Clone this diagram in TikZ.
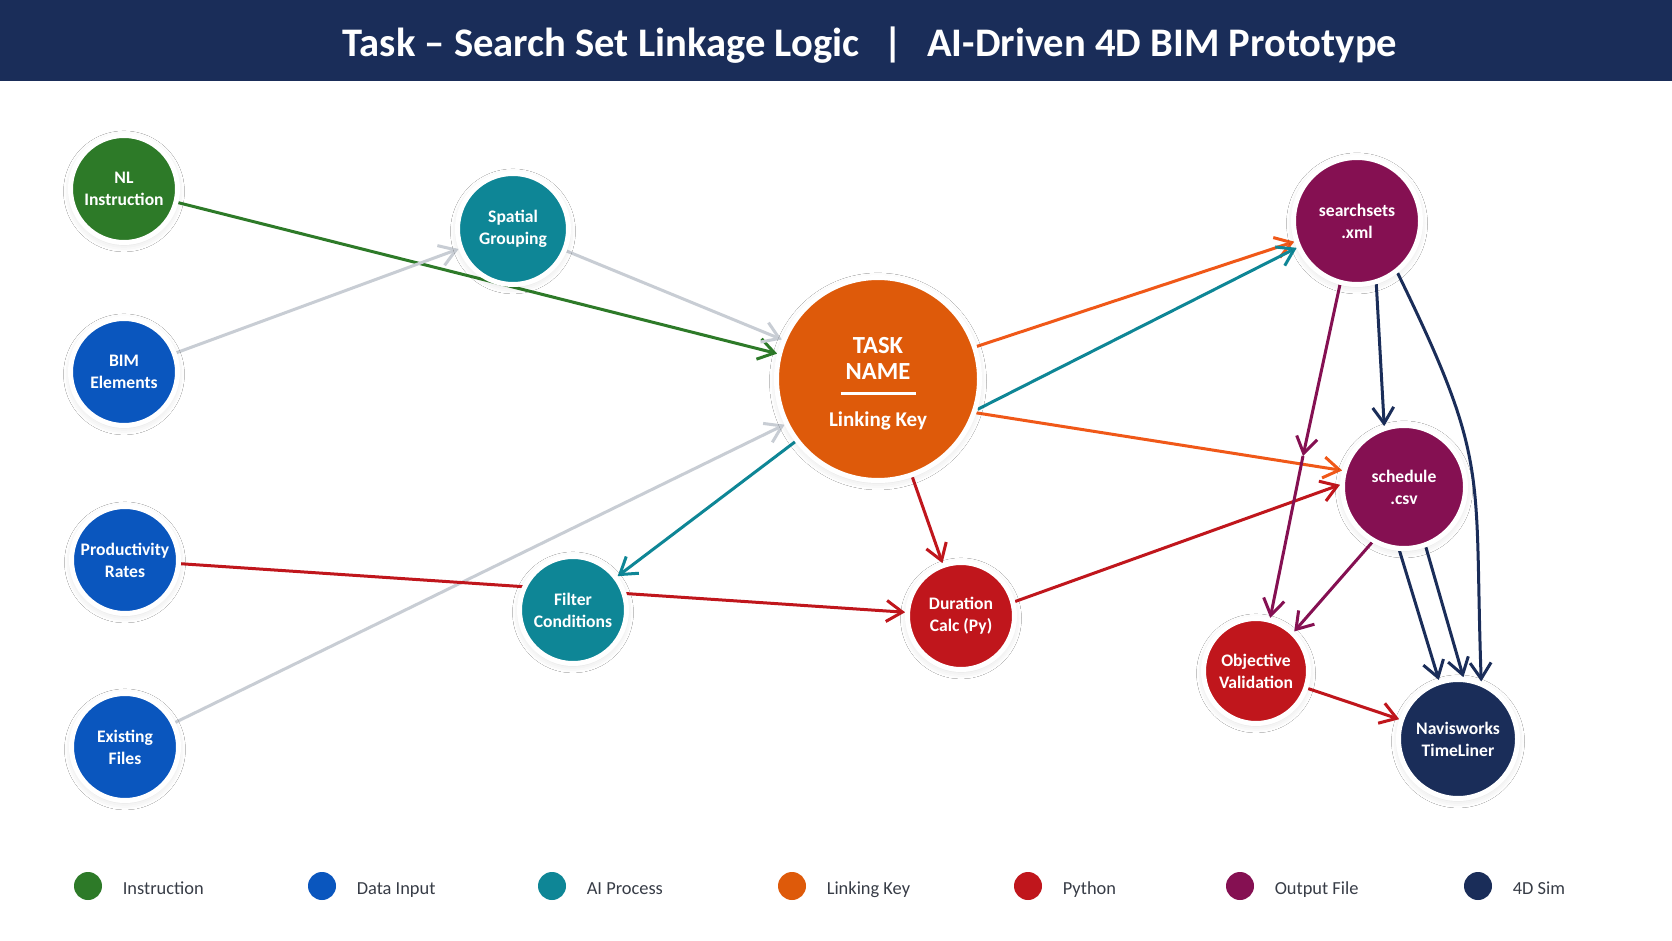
\documentclass[tikz,border=0pt]{standalone}
\usepackage{fontspec}
\setmainfont{Carlito}
\usetikzlibrary{arrows.meta,positioning,shadows.blur}
\definecolor{instrgreen}{RGB}{45,122,40}
\definecolor{datablue}{RGB}{10,86,190}
\definecolor{aiteal}{RGB}{14,134,150}
\definecolor{keyorange}{RGB}{222,90,10}
\definecolor{keyarrow}{RGB}{240,88,24}
\definecolor{pyred}{RGB}{192,22,28}
\definecolor{outpurple}{RGB}{133,16,82}
\definecolor{simnavy}{RGB}{26,45,89}
\definecolor{edgegray}{RGB}{200,205,212}
\definecolor{legendgray}{RGB}{55,60,70}
\pgfdeclarelayer{background}
\pgfsetlayers{background,main}

\begin{document}
\begin{tikzpicture}[x=0.5pt,y=-0.5pt,
  stage/.style={circle,draw=white,line width=2.5pt,minimum size=53.5pt,inner sep=0pt,align=center,text=white,
    font=\fontsize{8.8}{11}\selectfont\bfseries,
    blur shadow={shadow xshift=0pt,shadow yshift=-1.2pt,shadow blur radius=3.5pt,shadow opacity=14}},
  flow/.style={line width=1.5pt,-{Straight Barb[length=8pt,width=10.5pt]}},
  legdot/.style={circle,minimum size=14pt,inner sep=0pt},
  legtxt/.style={inner sep=0pt,text height=9pt,text depth=0.1pt,text=legendgray,font=\fontsize{9.2}{11}\selectfont}]
\useasboundingbox (0,0) rectangle (1672,941);

%Title bar
\fill[simnavy] (0,0) rectangle (1672,81);
\node[text=white,font=\fontsize{20.3}{23}\selectfont\bfseries] (title) at (870,45)
  {Task -- Search Set Linkage Logic\hspace{0.6em}|\hspace{0.6em}AI-Driven 4D BIM Prototype};

%Inputs
\node[stage,fill=instrgreen] (nl) at (124,189) {NL\\Instruction};
\node[stage,fill=datablue] (bim) at (124,372) {BIM\\Elements};
\node[stage,fill=datablue] (prod) at (125,560) {Productivity\\Rates};
\node[stage,fill=datablue] (files) at (125,747) {Existing\\Files};

%AI steps
\node[stage,fill=aiteal,minimum size=55.5pt] (spatial) at (513,229) {Spatial\\Grouping};
\node[stage,fill=aiteal] (filter) at (573,610) {Filter\\Conditions};

%Linking key
\node[stage,fill=keyorange,minimum size=101.5pt] (task) at (878,379) {};
\node[text=white,align=center,inner sep=0pt,font=\fontsize{12.3}{13}\selectfont\bfseries] (taskname) at ([yshift=10.5pt]task.center) {TASK\\NAME};
\draw[white,line width=1.5pt] (task.center) ++(-37.5,15) -- ++(75,0);
\node[text=white,anchor=base,inner sep=0pt,font=\fontsize{10.5}{12}\selectfont\bfseries] (taskkey) at ([yshift=-24pt]task.center) {Linking Key};

%Python
\node[stage,fill=pyred] (dur) at (961,616) {Duration\\Calc (Py)};
\node[stage,fill=pyred,minimum size=52.5pt] (obj) at (1256,671) {Objective\\Validation};

%Outputs
\node[stage,fill=outpurple,minimum size=63.5pt] (ssets) at (1357,221) {searchsets\\.xml};
\node[stage,fill=outpurple,minimum size=61.5pt] (sched) at (1404,487) {schedule\\.csv};
\node[stage,fill=simnavy,minimum size=59.5pt] (navis) at (1458,739) {Navisworks\\TimeLiner};

%Connectors
\begin{pgfonlayer}{background}
\fill[white] (0,81) rectangle (1672,941);
\draw[flow,instrgreen] (nl) -- (task);
\draw[flow,edgegray] (bim) -- (spatial);
\draw[flow,edgegray] (spatial) -- (task);
\draw[flow,edgegray] (files) -- (task);
\draw[flow,pyred] (prod) -- (dur);
\draw[flow,aiteal] (task) -- (filter);
\draw[flow,pyred] (task) -- (dur);
\draw[flow,keyarrow] (task) -- (ssets);
\draw[flow,aiteal] (task.-17) -- (ssets.204);
\draw[flow,keyarrow] (task.-19) -- (sched.165);
\draw[flow,pyred] (dur.15) -- (sched.178);
\coordinate (xmlmid) at (1303,456);
\draw[flow,outpurple] (ssets.-105) -- (xmlmid);
\draw[flow,outpurple] (xmlmid) -- (obj.75);
\draw[flow,simnavy] (ssets.-73) -- (sched.108);
\draw[flow,simnavy] (ssets.-52) to[out=-64,in=92,looseness=1.3] (navis.68);
\draw[flow,outpurple] (sched.-120) -- (obj.46);
\draw[flow,simnavy] (sched.-94) -- (navis.108);
\draw[flow,simnavy] (sched.-70) -- (navis.85);
\draw[flow,pyred] (obj) -- (navis);
\end{pgfonlayer}

%Legend
\node[legdot,fill=instrgreen] (leginstr) at (88,886) {};
\node[legtxt,right=10pt of leginstr] (leginstrtxt) {Instruction};
\node[legdot,fill=datablue] (legdata) at (322,886) {};
\node[legtxt,right=10pt of legdata] (legdatatxt) {Data Input};
\node[legdot,fill=aiteal] (legai) at (552,886) {};
\node[legtxt,right=10pt of legai] (legaitxt) {AI Process};
\node[legdot,fill=keyorange] (legkey) at (792,886) {};
\node[legtxt,right=10pt of legkey] (legkeytxt) {Linking Key};
\node[legdot,fill=pyred] (legpy) at (1028,886) {};
\node[legtxt,right=10pt of legpy] (legpytxt) {Python};
\node[legdot,fill=outpurple] (legout) at (1240,886) {};
\node[legtxt,right=10pt of legout] (legouttxt) {Output File};
\node[legdot,fill=simnavy] (legsim) at (1478,886) {};
\node[legtxt,right=10pt of legsim] (legsimtxt) {4D Sim};
\end{tikzpicture}
\end{document}
